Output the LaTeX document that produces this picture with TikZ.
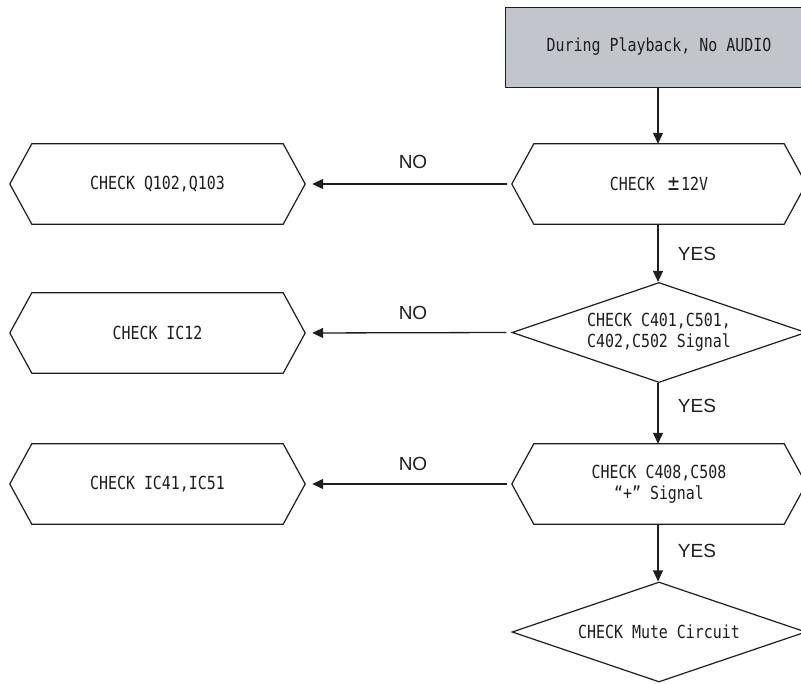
\documentclass[tikz,border=0pt]{standalone}
\usepackage{fontspec}
\usetikzlibrary{shapes.geometric,arrows.meta}
\newfontfamily\gfont[FakeStretch=0.83]{DejaVu Sans Mono}
\newfontfamily\lfont{Liberation Sans}
\definecolor{boxgray}{RGB}{195,197,204}
\definecolor{ink}{RGB}{30,30,30}
\tikzset{
  txt/.style={font=\gfont\fontsize{18}{21}\selectfont, text=ink, align=center},
  hexbox/.style={txt, rectangle, minimum width=294pt, minimum height=80pt, inner sep=0pt},
  dia/.style={txt, diamond, draw=ink, line width=1.2pt, minimum width=294pt, minimum height=100pt, aspect=2.94, inner sep=0pt},
  topbox/.style={txt, rectangle, draw=ink, fill=boxgray, line width=1.2pt, minimum width=308pt, minimum height=80pt, inner sep=0pt},
  outline/.style={draw=ink, line width=1.2pt},
  arr/.style={draw=ink, line width=1.3pt, -{Triangle[length=11pt,width=10pt]}},
  lab/.style={font=\lfont\fontsize{19}{22}\selectfont, text=ink},
}
\newcommand\hexoutline[1]{%
  \draw[outline] ([xshift=22pt]#1.north west) -- ([xshift=-22pt]#1.north east) -- (#1.east)
    -- ([xshift=-22pt]#1.south east) -- ([xshift=22pt]#1.south west) -- (#1.west) -- cycle;}
\begin{document}
\begin{tikzpicture}[x=1pt,y=-1pt]
\useasboundingbox[fill=white] (0,0) rectangle (801,684);
% right column
\node[topbox, anchor=north west] (start) at (505,7) {};
\node[txt] (starttxt) at (659,47) {During Playback, No AUDIO};
\node[hexbox] (v12) at (659,184) {CHECK \hspace{4pt}{\fontsize{23}{21}\selectfont ±}\hspace{2pt}12V};
\hexoutline{v12}
\node[dia] (sig) at (659,332.5) {CHECK C401,C501,\\C402,C502 Signal};
\node[hexbox] (plus) at (659,484) {CHECK C408,C508\\“+” Signal};
\hexoutline{plus}
\node[dia] (mute) at (659,632) {CHECK Mute Circuit};
% left column
\node[hexbox, minimum width=295pt] (q) at (157.5,184) {CHECK Q102,Q103};
\hexoutline{q}
\node[hexbox, minimum width=295pt] (ic12) at (157.5,333) {CHECK IC12};
\hexoutline{ic12}
\node[hexbox, minimum width=295pt] (ic41) at (157.5,484) {CHECK IC41,IC51};
\hexoutline{ic41}
% vertical arrows
\draw[arr] (start.south -| 658,0) -- (v12.north -| 658,0);
\draw[arr] (v12.south -| 658,0) -- (sig.north -| 658,0);
\draw[arr] (sig.south -| 658,0) -- (plus.north -| 658,0);
\draw[arr] (plus.south -| 658,0) -- (mute.north -| 658,0);
% horizontal arrows
\draw[arr, shorten <=5pt, shorten >=7pt] (v12.west) -- (q.east);
\draw[arr, shorten <=5pt, shorten >=7pt] (sig.west) -- (ic12.east);
\draw[arr, shorten <=5pt, shorten >=7pt] (plus.west) -- (ic41.east);
% labels
\node[lab] (no1) at (413,162) {NO};
\node[lab] (no2) at (413,313) {NO};
\node[lab] (no3) at (413,464) {NO};
\node[lab] (yes1) at (697,254) {YES};
\node[lab] (yes2) at (697,406) {YES};
\node[lab] (yes3) at (697,551) {YES};
\end{tikzpicture}
\end{document}
